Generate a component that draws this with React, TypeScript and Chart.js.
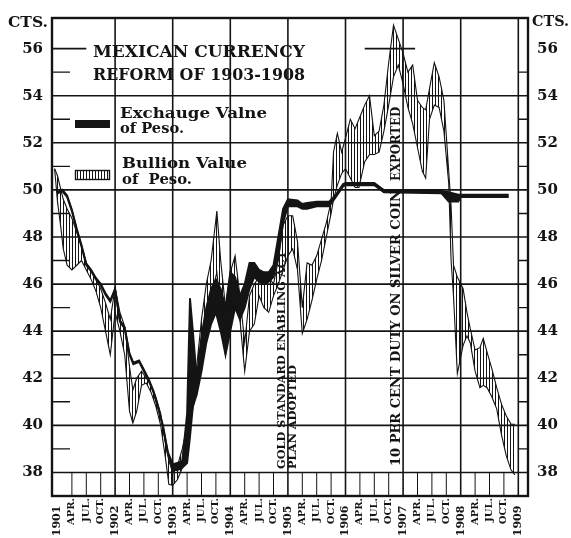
import React, { useEffect, useRef } from 'react';
import { Chart, registerables } from 'chart.js';

Chart.register(...registerables);

// ---- tick labels (quarters, months counted from Jan 1901) ----
const tickMonths = [0, 3, 6, 9, 12, 15, 18, 21, 24, 27, 30, 33, 36, 39, 42, 45, 48, 51, 54, 57, 60, 63, 66, 69, 72, 75, 78, 81, 84, 87, 90, 93, 96];
const tickLabels = ['1901', 'APR.', 'JUL.', 'OCT.', '1902', 'APR.', 'JUL.', 'OCT.', '1903', 'APR.', 'JUL.', 'OCT.', '1904', 'APR.', 'JUL.', 'OCT.', '1905', 'APR.', 'JUL.', 'OCT.', '1906', 'APR.', 'JUL.', 'OCT.', '1907', 'APR.', 'JUL.', 'OCT.', '1908', 'APR.', 'JUL.', 'OCT.', '1909'];
const yTicks = [38, 40, 42, 44, 46, 48, 50, 52, 54, 56];
const minorTicks = [39, 41, 43, 45, 47, 49, 51, 53, 55];
const yearLines = [12, 24, 36, 48, 60, 72, 84, 96];

// ---- Exchange value of peso (cents): monthly low / high ----
const exchangeMonths = [0, 1, 2, 3, 4, 5, 6, 7, 8, 9, 10, 11, 12, 13, 14, 15, 15.8, 17, 18, 19, 20, 21, 22, 23, 24, 25, 26, 27, 27.6, 28.2, 29, 30, 31, 32, 33, 34, 35, 36, 37, 38, 39, 40, 41, 42, 43, 44, 45, 46, 47, 48, 50, 51, 52, 54, 56.6, 58, 59.5, 60, 66, 68, 80, 81.5, 83.5, 84, 94];
const exchangeLow = [49.85, 49.95, 49.7, 49.1, 48.3, 47.6, 46.8, 46.55, 46.2, 45.95, 45.55, 45.25, 45.75, 44.4, 44.1, 43.0, 42.6, 42.7, 42.3, 41.9, 41.4, 40.7, 39.9, 38.8, 38.1, 38.1, 38.2, 38.4, 39.5, 40.8, 41.3, 42.3, 43.5, 44.3, 44.8, 44.0, 43.0, 44.0, 45.0, 44.5, 45.0, 45.8, 46.3, 46.1, 46.0, 46.1, 46.3, 47.2, 48.6, 49.3, 49.3, 49.2, 49.2, 49.3, 49.3, 49.7, 50.15, 50.2, 50.2, 49.9, 49.85, 49.5, 49.5, 49.7, 49.7];
const exchangeHigh = [49.91, 50.01, 49.76, 49.16, 48.36, 47.66, 46.86, 46.61, 46.26, 46.01, 45.61, 45.31, 45.81, 44.46, 44.16, 43.06, 42.66, 42.76, 42.36, 41.96, 41.46, 40.76, 39.96, 38.86, 38.35, 38.4, 38.5, 40.5, 45.4, 44.0, 42.0, 43.8, 45.0, 45.8, 46.2, 45.8, 45.0, 46.5, 46.3, 45.5, 46.0, 46.9, 46.9, 46.6, 46.5, 46.5, 46.8, 48.0, 49.2, 49.6, 49.55, 49.4, 49.45, 49.5, 49.5, 49.8, 50.25, 50.3, 50.3, 50.0, 49.95, 49.9, 49.8, 49.8, 49.8];

// ---- Bullion value of peso (cents): monthly low / high ----
const bullionMonths = [-0.6, 0, 0.7, 1.2, 2, 3, 4, 5, 6, 7, 8, 9, 10, 11, 12, 13, 14, 15, 15.7, 16.5, 17.5, 18.5, 19.5, 20.5, 21.5, 22.5, 23.2, 24, 25, 26, 27, 28, 29, 30, 31, 32, 33.2, 34, 35, 36, 37, 38, 39, 40, 41, 42, 43, 44, 45, 46, 47, 48, 49, 50, 51, 52, 53, 54, 55, 56, 57, 57.5, 58.3, 59.2, 60, 61, 62, 62.8, 64, 65, 66, 67, 68, 69, 70, 71, 72, 73, 74, 75, 76, 76.7, 77.5, 78.5, 79.5, 80.5, 81.5, 82, 82.5, 83.3, 84.5, 85.3, 86, 87, 88, 88.7, 89.5, 90.5, 91.5, 92.5, 93.5, 94.5, 95.3];
const bullionLow = [50.9, 49.5, 48.4, 47.5, 46.8, 46.6, 46.8, 47.0, 46.6, 46.2, 45.7, 45.0, 44.0, 43.0, 44.8, 44.0, 43.0, 40.6, 40.1, 40.6, 41.7, 41.8, 41.4, 40.8, 40.0, 38.6, 37.5, 37.45, 37.7, 38.2, 39.0, 40.5, 41.5, 43.0, 44.5, 45.5, 46.5, 45.0, 43.0, 45.0, 46.2, 44.5, 42.3, 44.0, 44.3, 45.5, 45.0, 44.8, 45.5, 46.0, 46.6, 47.2, 47.5, 46.6, 43.9, 44.5, 45.3, 46.2, 47.0, 48.0, 49.0, 49.6, 50.2, 50.7, 50.9, 50.5, 50.1, 50.1, 51.2, 51.5, 51.5, 51.6, 52.5, 53.6, 54.8, 55.3, 54.5, 53.5, 52.8, 51.8, 50.8, 50.5, 53.0, 53.6, 53.5, 52.5, 50.3, 47.0, 45.5, 42.2, 43.4, 43.8, 43.5, 42.3, 41.6, 41.7, 41.6, 41.2, 40.7, 39.6, 38.7, 38.1, 37.9];
const bullionHigh = [50.9, 50.6, 50.0, 49.6, 49.2, 48.8, 48.2, 47.6, 46.9, 46.6, 46.2, 45.8, 45.2, 44.5, 45.85, 44.8, 44.2, 42.5, 41.5, 42.0, 42.3, 42.0, 41.7, 41.2, 40.5, 39.2, 38.5, 38.0, 38.3, 39.0, 40.0, 41.5, 42.5, 44.5, 46.0, 47.0, 49.1, 47.0, 45.0, 46.5, 47.2, 45.5, 43.5, 45.5, 46.0, 46.3, 46.3, 46.3, 46.0, 47.0, 48.5, 48.9, 48.9, 47.8, 45.0, 46.9, 46.8, 47.2, 47.9, 48.6, 49.5, 51.6, 52.4, 51.6, 52.2, 53.0, 52.6, 53.0, 53.6, 54.0, 52.3, 52.5, 53.6, 55.4, 57.0, 56.4, 55.8, 55.0, 55.3, 53.8, 53.5, 53.4, 54.3, 55.4, 54.8, 53.8, 50.8, 49.3, 46.8, 46.3, 45.8, 44.8, 44.1, 43.2, 43.3, 43.7, 43.1, 42.4, 41.6, 40.9, 40.4, 40.05, 40.05];

const SERIF = '"DejaVu Serif", "Liberation Serif", serif';
const INK = '#141414';

const pts = (xs: number[], ys: number[]) => xs.map((x, i) => ({ x, y: ys[i] }));

function fitText(ctx: CanvasRenderingContext2D, text: string, x: number, y: number, width: number, font: string) {
  ctx.save();
  ctx.font = font;
  const w = ctx.measureText(text).width;
  ctx.translate(x, y);
  ctx.scale(width / w, 1);
  ctx.textAlign = 'left';
  ctx.fillText(text, 0, 0);
  ctx.restore();
}

function vertText(ctx: CanvasRenderingContext2D, text: string, cx: number, yStart: number, length: number, font: string) {
  ctx.save();
  ctx.font = font;
  const w = ctx.measureText(text).width;
  ctx.translate(cx, yStart);
  ctx.rotate(-Math.PI / 2);
  ctx.scale(length / w, 1);
  ctx.textAlign = 'left';
  ctx.textBaseline = 'middle';
  ctx.fillText(text, 0, 0);
  ctx.restore();
}

const decorPlugin = {
  id: 'decor',
  beforeDatasetsDraw(chart: any) {
    const { ctx, chartArea: a, scales } = chart;
    const xs = scales.x;
    const ys = scales.y;
    ctx.save();
    ctx.strokeStyle = INK;
    ctx.lineWidth = 1.6;
    yTicks.forEach((v) => {
      const py = ys.getPixelForValue(v);
      ctx.beginPath();
      if (v === 56) {
        ctx.moveTo(a.left, py);
        ctx.lineTo(xs.getPixelForValue(6), py);
        ctx.moveTo(xs.getPixelForValue(64), py);
        ctx.lineTo(xs.getPixelForValue(74.5), py);
      } else {
        ctx.moveTo(a.left, py);
        ctx.lineTo(a.right, py);
      }
      ctx.stroke();
    });
    yearLines.forEach((t) => {
      const px = xs.getPixelForValue(t);
      ctx.beginPath();
      ctx.moveTo(px, a.top);
      ctx.lineTo(px, a.bottom);
      ctx.stroke();
    });
    ctx.lineWidth = 1;
    const y38 = ys.getPixelForValue(38);
    tickMonths.forEach((t) => {
      if (t % 12 === 0) return;
      const px = xs.getPixelForValue(t);
      ctx.beginPath();
      ctx.moveTo(px, y38);
      ctx.lineTo(px, a.bottom);
      ctx.stroke();
    });
    ctx.lineWidth = 1.4;
    const x96 = xs.getPixelForValue(96);
    minorTicks.forEach((v) => {
      const py = ys.getPixelForValue(v);
      ctx.beginPath();
      ctx.moveTo(a.left, py);
      ctx.lineTo(a.left + 18, py);
      ctx.moveTo(x96, py);
      ctx.lineTo(a.right, py);
      ctx.stroke();
    });
    ctx.lineWidth = 2.4;
    ctx.strokeRect(a.left, a.top, a.right - a.left, a.bottom - a.top);
    ctx.restore();
  },
  afterDatasetsDraw(chart: any) {
    const { ctx, scales } = chart;
    const xs = scales.x;
    ctx.save();
    ctx.fillStyle = INK;
    ctx.textBaseline = 'alphabetic';
    fitText(ctx, 'CTS.', 8, 27, 40, `bold 15px ${SERIF}`);
    fitText(ctx, 'CTS.', 532, 26, 37, `bold 15px ${SERIF}`);
    fitText(ctx, 'MEXICAN CURRENCY', 93, 57, 212, `bold 17px ${SERIF}`);
    fitText(ctx, 'REFORM OF 1903-1908', 93, 80, 212, `bold 17px ${SERIF}`);
    ctx.fillRect(75, 120, 35, 8);
    fitText(ctx, 'Exchauge Valne', 120, 118, 147, `bold 15px ${SERIF}`);
    fitText(ctx, 'of Peso.', 120, 133, 64, `bold 14px ${SERIF}`);
    ctx.strokeStyle = INK;
    ctx.lineWidth = 1.4;
    ctx.strokeRect(75.5, 170.5, 34, 9);
    ctx.lineWidth = 1;
    for (let x = 77; x < 110; x += 3) {
      ctx.beginPath();
      ctx.moveTo(x + 0.5, 171);
      ctx.lineTo(x + 0.5, 180);
      ctx.stroke();
    }
    fitText(ctx, 'Bullion Value', 122, 168, 125, `bold 15px ${SERIF}`);
    fitText(ctx, 'of  Peso.', 122, 184, 70, `bold 15px ${SERIF}`);
    const x1905 = xs.getPixelForValue(48);
    vertText(ctx, 'GOLD STANDARD ENABLING ACT', x1905 - 6, 469, 218, `bold 11px ${SERIF}`);
    vertText(ctx, 'PLAN ADOPTED', x1905 + 5, 469, 104, `bold 11px ${SERIF}`);
    const x1907 = xs.getPixelForValue(72);
    vertText(ctx, '10 PER CENT DUTY ON SILVER COIN', x1907 - 6, 466, 276, `bold 12px ${SERIF}`);
    vertText(ctx, 'EXPORTED', x1907 - 6, 181, 74, `bold 12px ${SERIF}`);
    ctx.restore();
  },
};

export default function App() {
  const ref = useRef<HTMLCanvasElement | null>(null);
  useEffect(() => {
    const canvas = ref.current;
    if (!canvas) return;
    const ctx = canvas.getContext('2d')!;
    const pc = document.createElement('canvas');
    pc.width = 3;
    pc.height = 4;
    const pctx = pc.getContext('2d')!;
    pctx.fillStyle = INK;
    pctx.fillRect(0, 0, 1, 4);
    const hatch = ctx.createPattern(pc, 'repeat');

    const tickFont = (c: any) => {
      const lbl = tickLabels[c.index] || '';
      return /^\d/.test(lbl) ? { family: SERIF, size: 11, weight: 'bold' } : { family: SERIF, size: 10, weight: 'bold' };
    };

    const chart = new Chart(ctx, {
      type: 'line',
      data: {
        datasets: [
          { label: 'Exchange low', data: pts(exchangeMonths, exchangeLow), borderColor: INK, borderWidth: 1.9, pointRadius: 0, fill: false },
          { label: 'Exchange high', data: pts(exchangeMonths, exchangeHigh), borderColor: INK, borderWidth: 1.9, pointRadius: 0, fill: '-1', backgroundColor: INK },
          { label: 'Bullion low', data: pts(bullionMonths, bullionLow), borderColor: INK, borderWidth: 1.1, pointRadius: 0, fill: false },
          { label: 'Bullion high', data: pts(bullionMonths, bullionHigh), borderColor: INK, borderWidth: 1.1, pointRadius: 0, fill: '-1', backgroundColor: hatch as any },
        ],
      },
      options: {
        responsive: false,
        animation: false,
        devicePixelRatio: 1,
        layout: { padding: { top: 12, left: 0, right: 0, bottom: 0 } },
        plugins: { legend: { display: false }, tooltip: { enabled: false }, title: { display: false } },
        elements: { line: { tension: 0 } },
        scales: {
          x: {
            type: 'linear',
            position: 'bottom',
            min: -1.146,
            max: 98.02,
            grid: { display: false, drawTicks: false },
            border: { display: false },
            afterBuildTicks: (s: any) => { s.ticks = tickMonths.map((v) => ({ value: v })); },
            afterFit: (s: any) => { s.height = 42; },
            ticks: {
              autoSkip: false,
              minRotation: 90,
              maxRotation: 90,
              padding: 2,
              color: INK,
              font: tickFont as any,
              callback: (v: any) => {
                const i = tickMonths.indexOf(Number(v));
                const lbl = tickLabels[i] ?? '';
                return /^\d/.test(lbl) ? lbl + '  ' : lbl;
              },
            },
          },
          y: {
            type: 'linear',
            position: 'left',
            min: 37,
            max: 57.3,
            grid: { display: false, drawTicks: false },
            border: { display: false },
            afterBuildTicks: (s: any) => { s.ticks = yTicks.map((v) => ({ value: v })); },
            afterFit: (s: any) => { s.width = 52; },
            ticks: { padding: 9, color: INK, font: { family: SERIF, size: 15, weight: 'bold' } },
          },
          y2: {
            type: 'linear',
            position: 'right',
            min: 37,
            max: 57.3,
            grid: { display: false, drawTicks: false },
            border: { display: false },
            afterBuildTicks: (s: any) => { s.ticks = yTicks.map((v) => ({ value: v })); },
            afterFit: (s: any) => { s.width = 43; },
            ticks: { padding: 9, color: INK, font: { family: SERIF, size: 15, weight: 'bold' } },
          },
        },
      },
      plugins: [decorPlugin],
    });
    return () => chart.destroy();
  }, []);

  return (
    <div style={{ position: 'absolute', left: 0, top: 0, width: 571, height: 538, background: '#fff' }}>
      <canvas ref={ref} width={571} height={538} style={{ display: 'block', width: 571, height: 538 }} />
    </div>
  );
}
